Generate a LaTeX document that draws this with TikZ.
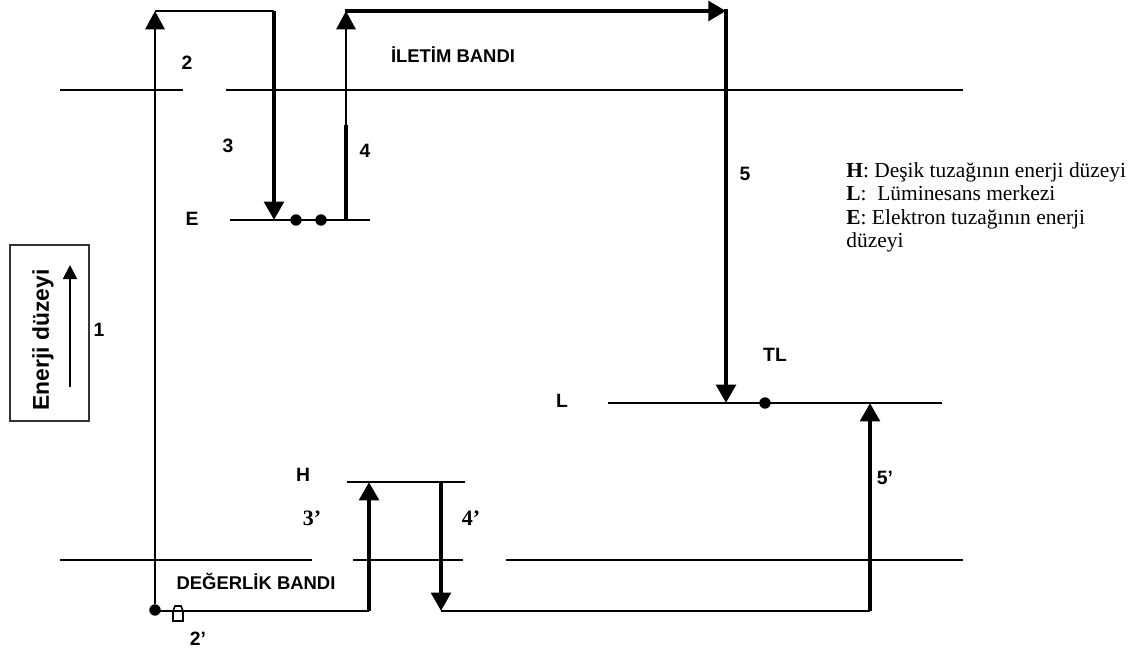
\documentclass[tikz,border=0pt]{standalone}
\usepackage{fontspec}
\setmainfont{Liberation Serif}
\setsansfont{Liberation Sans}
\usetikzlibrary{arrows.meta}

\begin{document}
\begin{tikzpicture}[x=0.02cm,y=-0.02cm,
  every node/.style={font=\sffamily\bfseries\fontsize{11}{13}\selectfont,inner sep=0pt},
  lvl/.style={line width=1.2pt},
  jump/.style={line width=2.8pt,-{Triangle[length=10.5pt,width=11pt]}},
  thinjump/.style={line width=1.4pt,-{Triangle[length=10.5pt,width=11pt]}},
  lab/.style={anchor=base},
  serlab/.style={anchor=base,font=\rmfamily\bfseries\fontsize{12.5}{14}\selectfont},
  dot/.style={circle,fill,minimum size=6.5pt}]
  \useasboundingbox (0,0) rectangle (1140,652);
  % energy axis box
  \draw[line width=1pt,black!80] (10,245) rectangle (89,421);
  \node[rotate=90,font=\sffamily\bfseries\fontsize{13}{15}\selectfont] (axis) at (43,340) {Enerji düzeyi};
  \coordinate (ax0) at (70,387);
  \coordinate (ax1) at (70,265);
  \draw[line width=1pt,-{Triangle[length=8pt,width=8pt]}] (ax0) -- (ax1);
  % bands and levels
  \draw[lvl] (60,90) -- (183,90) (226,90) -- (963,90);
  \draw[lvl] (60,560) -- (312,560) (353,560) -- (463,560) (506,560) -- (963,560);
  \draw[lvl] (230,220) -- (370,220);
  \draw[lvl] (347,482) -- (465,482);
  \draw[lvl] (608,403) -- (942,403);
  \node[lab,font=\sffamily\bfseries\fontsize{10.5}{12}\selectfont] (cb) at (453,63) {İLETİM BANDI};
  \node[lab,font=\sffamily\bfseries\fontsize{10.5}{12}\selectfont] (vb) at (256,589) {DEĞERLİK BANDI};
  \node[lab] (lE) at (192,225) {E};
  \node[lab] (lH) at (303,481) {H};
  \node[lab] (lL) at (562,407) {L};
  \node[lab] (lTL) at (775,361) {TL};
  % trapped charges
  \node[dot] (e1) at (296,220) {};
  \node[dot] (e2) at (321,220) {};
  \node[dot] (tl) at (765,403) {};
  \node[dot] (start) at (155,610) {};
  \draw[line width=0.9pt,fill=white] (173,611) -- (173,621) -- (183,621) -- (183,611) -- (181,606) -- (175,606) -- cycle;
  % corner points
  \coordinate (t1) at (155,11);
  \coordinate (t2) at (274,11);
  \coordinate (eA) at (274,220);
  \coordinate (eB) at (346,220);
  \coordinate (m4) at (346,125);
  \coordinate (t4) at (346,11);
  \coordinate (t5) at (726,11);
  \coordinate (l5) at (726,403);
  \coordinate (b1) at (155,611);
  \coordinate (b3) at (369,611);
  \coordinate (h3) at (369,482);
  \coordinate (h4) at (441,482);
  \coordinate (b4) at (441,611);
  \coordinate (b5) at (870,611);
  \coordinate (l6) at (870,403);
  % transitions
  \draw[thinjump] (start) -- (t1);
  \draw[lvl] (t1) -- (t2);
  \draw[jump] (t2) -- (eA);
  \draw[line width=2.8pt] (eB) -- (m4);
  \draw[thinjump] (m4) -- (t4);
  \draw[line width=2.4pt,-{Triangle[length=10pt,width=11pt]}] ([xshift=-0.7pt]t4) -- (t5);
  \draw[jump] ([yshift=1.2pt]t5) -- (l5);
  \draw[lvl] (b1) -- (b3);
  \draw[jump] (b3) -- (h3);
  \draw[jump] (h4) -- (b4);
  \draw[lvl] (b4) -- (b5);
  \draw[jump] (b5) -- (l6);
  % step numbers
  \node[lab] (n1) at (99,336) {1};
  \node[lab] (n2) at (187,70) {2};
  \node[lab] (n3) at (228,153) {3};
  \node[lab] (n4) at (365,157) {4};
  \node[lab] (n5) at (745,180) {5};
  \node[lab] (n2p) at (198,645) {2'};
  \node[serlab] (n3p) at (312,525) {3'};
  \node[serlab] (n4p) at (471,525) {4'};
  \node[lab] (n5p) at (885,484) {5'};
  % legend
  \node[anchor=north west,align=left,font=\rmfamily\fontsize{12.2}{13.4}\selectfont] (legend) at (846,162)
    {\textbf{H}: Deşik tuzağının enerji düzeyi\\ \textbf{L}:~ Lüminesans merkezi\\ \textbf{E}: Elektron tuzağının enerji\\ düzeyi};
\end{tikzpicture}
\end{document}
